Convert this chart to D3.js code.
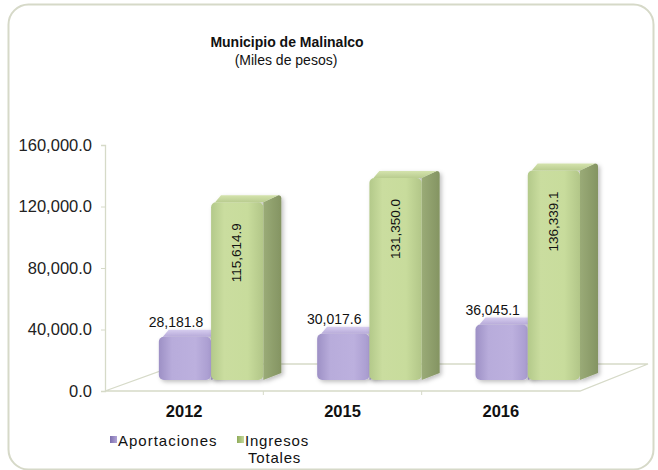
<!DOCTYPE html>
<html><head><meta charset="utf-8">
<script src="https://cdn.jsdelivr.net/npm/d3@7"></script>
<style>html,body{margin:0;padding:0;background:#fff;}svg{display:block;font-family:Arial,"Liberation Sans",sans-serif;}</style>
</head><body>
<svg id="c" width="658" height="470"></svg>
<script>
const years = ["2012", "2015", "2016"];
const seriesNames = ["Aportaciones", "Ingresos Totales"];
const aportaciones = [28181.8, 30017.6, 36045.1];
const ingresos = [115614.9, 131350.0, 136339.1];
const yTicks = [0, 40000, 80000, 120000, 160000];

const svg = d3.select("#c");
const defs = svg.append("defs");

function lg(id, stops, x2 = "100%", y2 = "0%") {
  const g = defs.append("linearGradient").attr("id", id).attr("x1", "0%").attr("y1", "0%").attr("x2", x2).attr("y2", y2);
  stops.forEach(s => g.append("stop").attr("offset", s[0]).attr("stop-color", s[1]));
}
lg("gFront", [["0%", "#b3c98a"], ["25%", "#cadd9f"], ["70%", "#c8dc9c"], ["100%", "#b2c688"]]);
lg("gSide", [["0%", "#9aab77"], ["100%", "#849462"]]);
lg("gTop", [["0%", "#d4e3ad"], ["100%", "#b9cc8f"]], "0%", "100%");
lg("pFront", [["0%", "#9d90c5"], ["25%", "#b8acdb"], ["70%", "#bcb0de"], ["100%", "#a89bcf"]]);
lg("pSide", [["0%", "#9a8dc0"], ["100%", "#8476ad"]]);
lg("pTop", [["0%", "#d6cdef"], ["100%", "#b7aad9"]], "0%", "100%");
lg("lgP", [["0%", "#7d6fae"], ["100%", "#b0a3d6"]]);
lg("lgG", [["0%", "#8fab5a"], ["100%", "#c5d99a"]]);

const sh = defs.append("filter").attr("id", "sh").attr("x", "-20%").attr("y", "-20%").attr("width", "160%").attr("height", "160%");
sh.append("feDropShadow").attr("dx", 2).attr("dy", 2).attr("stdDeviation", 2).attr("flood-color", "#000").attr("flood-opacity", 0.25);

const FONT = "Arial, 'Liberation Sans', sans-serif";

// frame
svg.append("rect").attr("x", 8.5).attr("y", 4.5).attr("width", 645).attr("height", 465).attr("rx", 20)
  .attr("fill", "#fff").attr("stroke", "#d6d9c8").attr("stroke-width", 2);

// title
svg.append("text").attr("x", 287).attr("y", 47).attr("text-anchor", "middle")
  .attr("font-size", 14).attr("font-weight", "bold").attr("fill", "#111").text("Municipio de Malinalco");
svg.append("text").attr("x", 286).attr("y", 65).attr("text-anchor", "middle")
  .attr("font-size", 14).attr("fill", "#111").text("(Miles de pesos)");

// scales
const x = d3.scaleBand().domain(years).range([105, 580]).paddingInner(0).paddingOuter(0);
const bw = x.bandwidth();
const xs = d3.scaleBand().domain(seriesNames).range([0.34 * bw, 1.0 * bw]).paddingInner(0);
const y = d3.scaleLinear().domain([0, 160000]).range([391, 145]);
const barBase = -11; // bars sit in the middle depth plane
const dX = 18, dY = -7;
const lineCol = "#d6dac8";

// floor
const floorPts = [[x.range()[0], y(0)], [x.range()[1], y(0)], [x.range()[1] + 68, y(0) - 27], [x.range()[0] + 75, y(0) - 27]];
svg.append("path").attr("d", "M" + floorPts.map(p => p.join(",")).join("L") + "Z")
  .attr("fill", "none").attr("stroke", lineCol).attr("stroke-width", 1.3);

// y axis (back wall line) with ticks
const yAxis = d3.axisLeft(y).tickValues(yTicks).tickSize(4).tickPadding(9)
  .tickFormat(d => d3.format(",.1f")(d));
const ya = svg.append("g").attr("transform", "translate(105,0)").call(yAxis);
ya.select(".domain").attr("stroke", lineCol).attr("stroke-width", 1.3);
ya.selectAll(".tick line").attr("stroke", lineCol);
ya.selectAll(".tick text").attr("font-size", 16.5).attr("fill", "#222").attr("font-family", FONT);

// x axis
const xAxis = d3.axisBottom(x).tickSize(0).tickPadding(14);
const xa = svg.append("g").attr("transform", `translate(0,${y(0)})`).call(xAxis);
xa.select(".domain").remove();
xa.selectAll(".tick text").attr("font-size", 16.5).attr("font-weight", "bold").attr("fill", "#111")
  .attr("font-family", FONT);
// category separators
svg.selectAll("line.sep").data(x.domain().slice(1)).enter().append("line")
  .attr("x1", d => x(d)).attr("x2", d => x(d)).attr("y1", y(0)).attr("y2", y(0) + 4)
  .attr("stroke", lineCol);

function drawBox(g, x0, w, val, pre) {
  const yb = y(0) + barBase, yt = y(val) + barBase, x1 = x0 + w;
  const grp = g.append("g").attr("filter", "url(#sh)");
  grp.append("path").attr("d", `M${x1},${yb}L${x1 + dX},${yb + dY}L${x1 + dX},${yt + dY + 3}Q${x1 + dX},${yt + dY} ${x1 + dX - 3},${yt + dY}L${x1},${yt}Z`)
    .attr("fill", `url(#${pre}Side)`);
  grp.append("path").attr("d", `M${x0 + 4},${yt}L${x0 + dX * 0.55},${yt + dY}L${x1 + dX - 3},${yt + dY}L${x1},${yt}Z`)
    .attr("fill", `url(#${pre}Top)`);
  grp.append("rect").attr("x", x0).attr("y", yt).attr("width", w).attr("height", yb - yt)
    .attr("rx", 5).attr("fill", `url(#${pre}Front)`);
}

const chart = svg.append("g");
years.forEach((yr, i) => {
  const xp = x(yr) + xs("Aportaciones");
  const xg = x(yr) + xs("Ingresos Totales");
  const w = xs.bandwidth();
  drawBox(chart, xp, w, aportaciones[i], "p");
  drawBox(chart, xg, w, ingresos[i], "g");
});

// labels
svg.selectAll("text.lp").data(years).enter().append("text")
  .attr("x", (d, i) => x(d) + xs("Aportaciones") + xs.bandwidth() / 2 - 9)
  .attr("y", (d, i) => y(aportaciones[i]) + barBase - 10)
  .attr("text-anchor", "middle").attr("font-size", 14).attr("fill", "#111")
  .text((d, i) => d3.format(",.1f")(aportaciones[i]));
svg.selectAll("text.lg").data(years).enter().append("text")
  .attr("transform", (d, i) => `translate(${x(d) + xs("Ingresos Totales") + xs.bandwidth() / 2 + 4},${y(ingresos[i]) + barBase + 21}) rotate(-90)`)
  .attr("text-anchor", "end").attr("font-size", 13.5).attr("fill", "#111")
  .text((d, i) => d3.format(",.1f")(ingresos[i]));

// legend
const leg = svg.append("g");
leg.append("rect").attr("x", 110).attr("y", 436).attr("width", 7).attr("height", 7).attr("fill", "url(#lgP)");
leg.append("text").attr("x", 118).attr("y", 446).attr("font-size", 15).attr("letter-spacing", 1).attr("fill", "#111").text(seriesNames[0]);
leg.append("rect").attr("x", 237).attr("y", 436).attr("width", 7).attr("height", 7).attr("fill", "url(#lgG)");
const t2 = leg.append("text").attr("x", 245).attr("y", 446).attr("font-size", 15).attr("letter-spacing", 0.8).attr("fill", "#111");
t2.append("tspan").attr("x", 245).text(seriesNames[1].split(" ")[0]);
t2.append("tspan").attr("x", 248).attr("dy", 17).text(seriesNames[1].split(" ")[1]);
</script>
</body></html>
